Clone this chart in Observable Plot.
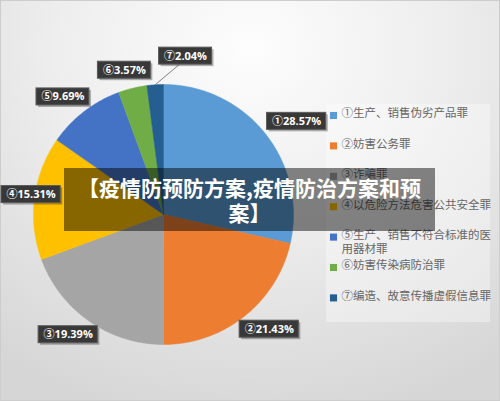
<!DOCTYPE html>
<html><head><meta charset="utf-8">
<script src="https://cdn.jsdelivr.net/npm/d3@7"></script>
<script src="https://cdn.jsdelivr.net/npm/@observablehq/plot@0.6"></script>
<style>
body{margin:0;background:#fff}
#wrap{position:relative;width:500px;height:401px;overflow:hidden;
  background:radial-gradient(ellipse 85% 95% at 50% 12%, #fdfdfd 0%, #eeeeee 45%, #d6d6d6 100%);
  box-shadow: inset 0 0 0 1px #cdcdcd;}
#chart{position:absolute;left:0;top:0}
#banner{position:absolute;left:64px;top:168px;width:371px;height:63px;box-sizing:border-box;padding-top:7px;
  background:rgba(0,0,0,0.47);color:#fff;font:bold 21px/25px "Noto Sans CJK SC",sans-serif;text-align:center;}
</style></head>
<body><div id="wrap"><div id="chart"></div><div id="banner">【疫情防预防方案,疫情防治方案和预<br>案】</div></div>
<script>
// ---- data ----
const names = ["①生产、销售伪劣产品罪","②妨害公务罪","③诈骗罪","④以危险方法危害公共安全罪","⑤生产、销售不符合标准的医用器材罪","⑥妨害传染病防治罪","⑦编造、故意传播虚假信息罪"];
const values = [28.57, 21.43, 19.39, 15.31, 9.69, 3.57, 2.04];
const colors = ["#5B9BD5","#ED7D31","#A5A5A5","#FFC000","#4472C4","#70AD47","#255E91"];

// ---- layout ----
const W = 500, H = 401, cx = 163, cy = 214, R = 130;
const labelR = [1.25, 1.2, 1.18, 1.03, 1.19, 1.15, 1.23];
const labelShift = [3.6, -4.1, 3.5, 1.2, -2.9, -1.4, 11.6];
const FONT = '"Open Sans","Noto Sans CJK SC",sans-serif';

const total = d3.sum(values);
let acc = 0;
const slices = values.map((v, i) => {
  const a0 = acc / total * 360; acc += v; const a1 = acc / total * 360;
  return {i, a0, a1, mid: (a0 + a1) / 2};
});
const rad = d => d * Math.PI / 180;
const polar = (a, r) => [r * Math.sin(rad(a)), r * Math.cos(rad(a))];

const slicePts = slices.flatMap(s => {
  const n = Math.max(2, Math.ceil((s.a1 - s.a0) / 0.5));
  const pts = [{k: names[s.i], x: 0, y: 0}];
  for (let j = 0; j <= n; j++) {
    const [x, y] = polar(s.a0 + (s.a1 - s.a0) * j / n, 1);
    pts.push({k: names[s.i], x, y});
  }
  pts.push({k: names[s.i], x: 0, y: 0});
  return pts;
});

const ctx = document.createElement("canvas").getContext("2d");
ctx.font = 'bold 11px ' + FONT;
const labels = slices.map(s => {
  const text = names[s.i][0] + values[s.i].toFixed(2) + "%";
  const [x, y] = polar(s.mid + labelShift[s.i], labelR[s.i]);
  const w = ctx.measureText(text).width + 10;
  return {text, x, y, x1: x - w / 2 / R, x2: x + w / 2 / R, y1: y - 8.5 / R, y2: y + 8.5 / R, mid: s.mid, i: s.i};
});
const lead = labels.filter(d => d.i === 6).map(d => {
  const [x1, y1] = polar(d.mid, 1);
  return {x1, y1, x2: d.x1 + 20 / R, y2: d.y1};
});

const py = p => (cy - p) / R, px = p => (p - cx) / R;
const legend = names.map((n, i) => ({
  name: n,
  text: n.length > 13 ? n.slice(0, 13) + "\n" + n.slice(13) : n,
  x: px(333), tx: px(341), y: py(115 + i * 30.4)
}));
const panel = [{x1: px(326), x2: px(490), y1: py(322), y2: py(104)}];

const chart = Plot.plot({
  width: W, height: H, margin: 0,
  style: {background: "transparent"},
  x: {domain: [-cx / R, (W - cx) / R], axis: null},
  y: {domain: [-(H - cy) / R, cy / R], axis: null},
  color: {domain: names, range: colors},
  marks: [
    Plot.rect(panel, {x1: "x1", x2: "x2", y1: "y1", y2: "y2", fill: "#ffffff", fillOpacity: 0.35}),
    Plot.line(slicePts, {x: "x", y: "y", z: "k", fill: "k", stroke: "k", strokeWidth: 0.5, curve: "linear"}),
    Plot.link(lead, {x1: "x1", y1: "y1", x2: "x2", y2: "y2", stroke: "#7f7f7f", strokeWidth: 1}),
    Plot.rect(labels, {x1: "x1", x2: "x2", y1: "y1", y2: "y2", fill: "#000", fillOpacity: 0.3, dx: 2, dy: 2}),
    Plot.rect(labels, {x1: "x1", x2: "x2", y1: "y1", y2: "y2", fill: "#383838", stroke: "#5a5a5a", strokeWidth: 1}),
    Plot.text(labels, {x: "x", y: "y", text: "text", fill: "#fff", fontSize: 11, fontWeight: "bold", fontFamily: FONT}),
    Plot.dot(legend, {x: "x", y: "y", fill: "name", symbol: "square", r: 4, stroke: null}),
    Plot.text(legend, {x: "tx", y: "y", text: "text", textAnchor: "start", lineAnchor: "top", dy: -8, lineHeight: 1.2,
      fill: "#666666", fontSize: 11.5, fontFamily: '"Noto Sans CJK SC",sans-serif'})
  ]
});
document.getElementById("chart").append(chart);
</script>
</body></html>
